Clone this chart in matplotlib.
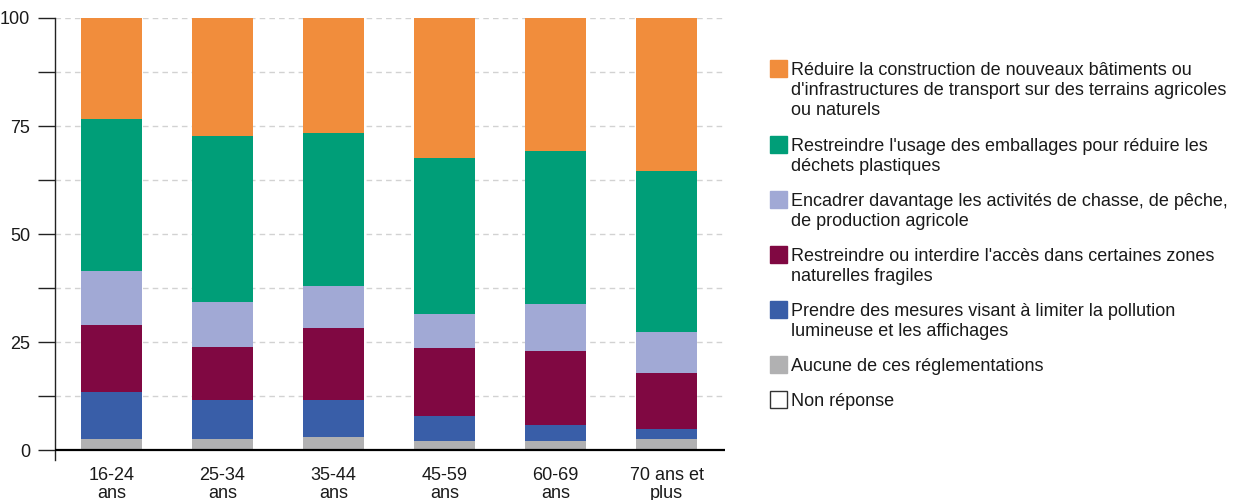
import matplotlib
matplotlib.use('Agg')
import matplotlib.pyplot as plt
from matplotlib.patches import Rectangle
import numpy as np

plt.rcParams['font.family'] = ['Liberation Sans', 'DejaVu Sans']

# ===== données =====
categories = ["16-24\nans", "25-34\nans", "35-44\nans", "45-59\nans", "60-69\nans", "70 ans et\nplus"]

series_labels = [
    "Aucune de ces réglementations",
    "Prendre des mesures visant à limiter la pollution\nlumineuse et les affichages",
    "Restreindre ou interdire l'accès dans certaines zones\nnaturelles fragiles",
    "Encadrer davantage les activités de chasse, de pêche,\nde production agricole",
    "Restreindre l'usage des emballages pour réduire les\ndéchets plastiques",
    "Réduire la construction de nouveaux bâtiments ou\nd'infrastructures de transport sur des terrains agricoles\nou naturels",
    "Non réponse",
]

aucune = [2.5, 2.5, 3.0, 2.1, 2.1, 2.5]
pollution = [10.9, 9.1, 8.6, 5.8, 3.7, 2.4]
acces = [15.5, 12.2, 16.6, 15.7, 17.1, 12.9]
chasse = [12.5, 10.5, 9.8, 7.9, 10.9, 9.5]
emballages = [35.2, 38.4, 35.4, 36.1, 35.4, 37.3]
construction = [23.4, 27.3, 26.6, 32.4, 30.8, 35.4]
non_reponse = [0.0, 0.0, 0.0, 0.0, 0.0, 0.0]

colors = ["#B1B1B2", "#395EA8", "#800842", "#A1A9D5", "#009E78", "#F18D3C", "#FFFFFF"]

series = [aucune, pollution, acces, chasse, emballages, construction, non_reponse]

# ===== figure =====
fig = plt.figure(figsize=(12.36, 5.0), dpi=100)
W, H = 1236, 500
ax = fig.add_axes([55 / W, (H - 460) / H, (725 - 55) / W, (460 - 18) / H])

x = np.arange(len(categories))
bottom = np.zeros(len(categories))
for vals, col in zip(series, colors):
    ax.bar(x, vals, bottom=bottom, width=0.55, color=col, linewidth=0, zorder=2)
    bottom += np.array(vals)

ax.set_xlim(-0.509, 5.527)
ax.set_ylim(-2.31, 100)

# grille
for yv in np.arange(12.5, 100.1, 12.5):
    ax.axhline(yv, color="#D2D2D2", linestyle=(0, (4, 3)), linewidth=1, zorder=1)
ax.axhline(0, color="black", linewidth=1.6, zorder=3)

ax.set_yticks(np.arange(0, 100.1, 12.5))
ax.set_yticklabels(["0", "", "25", "", "50", "", "75", "", "100"])
ax.tick_params(axis='y', length=12, width=1, color="#222222", labelsize=13, pad=6,
               labelcolor="#1a1a1a")
ax.set_xticks(x)
ax.set_xticklabels(categories, fontsize=13, linespacing=1.05, color="#1a1a1a")
ax.tick_params(axis='x', length=0, pad=5)

for s in ["top", "right", "bottom"]:
    ax.spines[s].set_visible(False)
ax.spines["left"].set_color("#222222")
ax.spines["left"].set_linewidth(1)

# ===== légende =====
legend_tops = [60, 136, 191, 246, 301, 356, 391]
order = [5, 4, 3, 2, 1, 0, 6]
for top, idx in zip(legend_tops, order):
    col = colors[idx]
    ec = "#333333" if idx == 6 else col
    fig.patches.append(Rectangle((770 / W, (H - top - 17) / H), 17 / W, 17 / H,
                                 transform=fig.transFigure, facecolor=col,
                                 edgecolor=ec, linewidth=1))
    fig.text(791 / W, (H - top - 2) / H, series_labels[idx], fontsize=13,
             va='top', ha='left', linespacing=1.22, color="#1a1a1a")

plt.savefig("out.png", dpi=100)
